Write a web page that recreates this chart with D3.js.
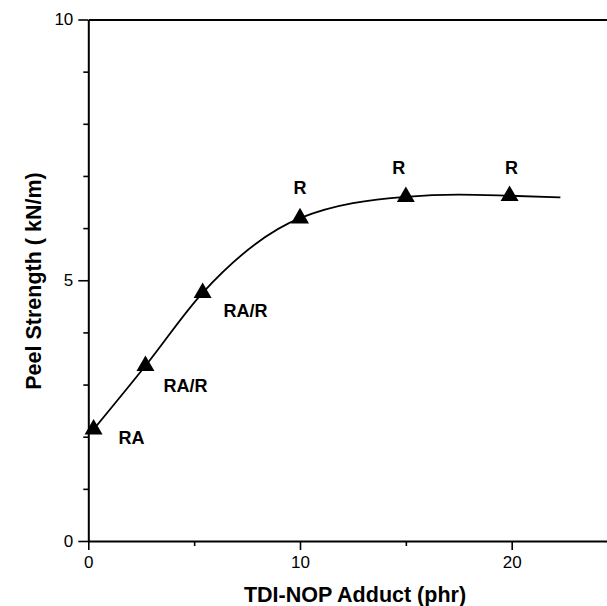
<!DOCTYPE html>
<html>
<head>
<meta charset="utf-8">
<script src="https://cdn.jsdelivr.net/npm/d3@7"></script>
<style>
  body { margin: 0; background: #fff; }
  svg { display: block; font-family: "Liberation Sans", Arial, sans-serif; }
</style>
</head>
<body>
<div id="chart"></div>
<script>
// measured points (TDI-NOP adduct, phr vs peel strength, kN/m)
const adduct = [0.25, 2.7, 5.4, 10, 15, 19.9];
const peel = [2.14, 3.36, 4.76, 6.19, 6.6, 6.62];
const failure = ['RA', 'RA/R', 'RA/R', 'R', 'R', 'R'];

// fitted curve drawn through the points
const curveX = [0.25, 2.7, 5.4, 10, 15, 17.5, 19.9, 22.3];
const curveY = [2.14, 3.36, 4.76, 6.19, 6.6, 6.64, 6.62, 6.59];

const xMajor = [0, 10, 20];
const xMinor = [5, 15, 25];
const yMajor = [0, 5, 10];
const yMinor = [1, 2, 3, 4, 6, 7, 8, 9];

const width = 607, height = 606;
const margin = { top: 19.5, left: 88.3, bottom: 65 };

const svg = d3.select('#chart').append('svg')
    .attr('width', width)
    .attr('height', height);

const x = d3.scaleLinear().domain([0, 25]).range([margin.left, margin.left + 25 * 21.17]);
const y = d3.scaleLinear().domain([0, 10]).range([height - margin.bottom, margin.top]);

// x axis, major ticks labelled
svg.append('g')
    .attr('transform', `translate(0,${y(0)})`)
    .call(d3.axisBottom(x).tickValues(xMajor).tickSizeInner(9).tickSizeOuter(0).tickPadding(6))
    .call(g => g.selectAll('text').attr('font-size', 17).attr('fill', '#000').attr('font-family', 'Liberation Sans, Arial'));
svg.append('g')
    .attr('transform', `translate(0,${y(0)})`)
    .call(d3.axisBottom(x).tickValues(xMinor).tickSize(5).tickFormat(''))
    .call(g => g.select('.domain').remove());

// y axis
svg.append('g')
    .attr('transform', `translate(${x(0)},0)`)
    .call(d3.axisLeft(y).tickValues(yMajor).tickSizeInner(10).tickSizeOuter(0).tickPadding(5))
    .call(g => g.selectAll('text').attr('font-size', 17).attr('fill', '#000').attr('font-family', 'Liberation Sans, Arial'));
svg.append('g')
    .attr('transform', `translate(${x(0)},0)`)
    .call(d3.axisLeft(y).tickValues(yMinor).tickSize(5).tickFormat(''))
    .call(g => g.select('.domain').remove());

// top frame line
svg.append('g')
    .attr('transform', `translate(0,${y(10)})`)
    .call(d3.axisTop(x).tickValues([]).tickSizeOuter(0));

svg.selectAll('.domain').attr('stroke-width', 2);
svg.selectAll('.tick line').attr('stroke-width', 1.6);

// curve
const line = d3.line()
    .x(d => x(d[0]))
    .y(d => y(d[1]))
    .curve(d3.curveMonotoneX);

svg.append('path')
    .datum(curveX.map((v, i) => [v, curveY[i]]))
    .attr('d', line)
    .attr('fill', 'none')
    .attr('stroke', '#000')
    .attr('stroke-width', 1.8);

// triangle markers
const tri = d3.symbol().type(d3.symbolTriangle).size(140);
svg.selectAll('.pt')
    .data(adduct)
    .enter()
    .append('path')
    .attr('class', 'pt')
    .attr('d', tri)
    .attr('transform', (d, i) => `translate(${x(d)},${y(peel[i])})`)
    .attr('fill', '#000');

// failure mode labels
const offsets = [[38, 8], [40, 20], [43, 18], [0, -31], [-7, -29], [2, -28]];
svg.selectAll('.lab')
    .data(failure)
    .enter()
    .append('text')
    .attr('class', 'lab')
    .attr('x', (d, i) => x(adduct[i]) + offsets[i][0])
    .attr('y', (d, i) => y(peel[i]) + offsets[i][1])
    .attr('dy', '0.36em')
    .attr('text-anchor', 'middle')
    .attr('font-size', 18)
    .attr('font-weight', 'bold')
    .text(d => d);

// axis titles
svg.append('text')
    .attr('x', 355)
    .attr('y', 602)
    .attr('text-anchor', 'middle')
    .attr('font-size', 21.5)
    .attr('font-weight', 'bold')
    .text('TDI-NOP Adduct (phr)');

svg.append('text')
    .attr('transform', 'translate(41,281) rotate(-90)')
    .attr('text-anchor', 'middle')
    .attr('font-size', 21.5)
    .attr('font-weight', 'bold')
    .text('Peel Strength ( kN/m)');
</script>
</body>
</html>
